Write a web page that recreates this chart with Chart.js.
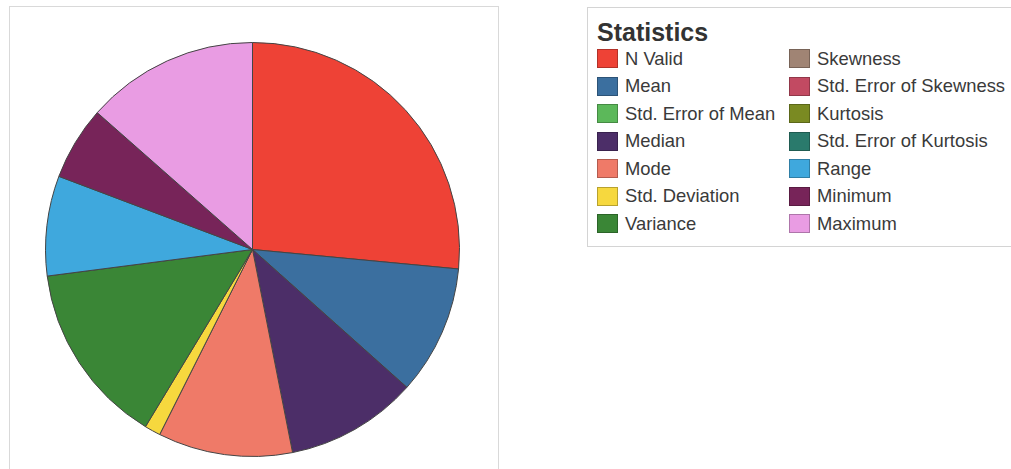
<!DOCTYPE html>
<html lang="en">
<head>
    <meta charset="UTF-8">
    <title>Statistics</title>
    <script src="https://cdn.jsdelivr.net/npm/chart.js"></script>
    <style>
        body { margin: 0; background: #fff; width: 1011px; height: 469px; overflow: hidden; position: relative; font-family: "Liberation Sans", Arial, sans-serif; }
        #marco { position: absolute; left: 9px; top: 6px; width: 488px; height: 480px; border: 1px solid #d9d9d9; }
        #pie { position: absolute; left: 45px; top: 42px; }
        #leyenda { position: absolute; left: 587px; top: 7px; width: 440px; height: 238px; border: 1px solid #d4d4d4; }
        #titulo { position: absolute; left: 597px; top: 18px; font-size: 25px; font-weight: bold; color: #333; }
        #items { position: absolute; left: 597px; top: 45px; display: grid; grid-template-columns: 192px 230px; grid-auto-flow: column; grid-template-rows: repeat(7, 27.5px); }
        .item { display: flex; align-items: center; font-size: 18.4px; color: #3a3a3a; white-space: nowrap; }
        .caja { flex: 0 0 auto; width: 19px; height: 17px; border: 1px solid rgba(0,0,0,0.25); margin-right: 7px; }
    </style>
</head>
<body>
    <div id="marco"></div>
    <canvas id="pie" width="415" height="415"></canvas>
    <div id="leyenda"></div>
    <div id="titulo">Statistics</div>
    <div id="items"></div>
    <script>
        const etiquetas = ['N Valid', 'Mean', 'Std. Error of Mean', 'Median', 'Mode', 'Std. Deviation', 'Variance',
            'Skewness', 'Std. Error of Skewness', 'Kurtosis', 'Std. Error of Kurtosis', 'Range', 'Minimum', 'Maximum'];
        // porcentaje de cada porción
        const valores = [26.5, 10.1, 0, 10.3, 10.5, 1.25, 14.3, 0, 0, 0, 0, 7.8, 5.75, 13.5];
        const colores = ['#ee4236', '#3b6f9f', '#5cb85a', '#4c2e68', '#ef7a68', '#f6d83e', '#3a8636',
            '#a08474', '#c24a62', '#7a8a22', '#2a7a6c', '#3fa8dd', '#772459', '#e99ce3'];

        const ctx = document.getElementById('pie').getContext('2d');
        const grafico = new Chart(ctx, {
            type: 'pie',
            data: {
                labels: etiquetas,
                datasets: [{
                    data: valores,
                    backgroundColor: colores,
                    borderColor: '#444',
                    borderWidth: 1
                }]
            },
            options: {
                responsive: false,
                animation: false,
                plugins: {
                    legend: { display: false },
                    tooltip: { enabled: false }
                }
            }
        });

        // leyenda en dos columnas, hecha con los datos del gráfico
        const items = document.getElementById('items');
        grafico.data.labels.forEach((et, i) => {
            const fila = document.createElement('div');
            fila.className = 'item';
            const caja = document.createElement('span');
            caja.className = 'caja';
            caja.style.background = grafico.data.datasets[0].backgroundColor[i];
            fila.appendChild(caja);
            fila.appendChild(document.createTextNode(et));
            items.appendChild(fila);
        });
    </script>
</body>
</html>
